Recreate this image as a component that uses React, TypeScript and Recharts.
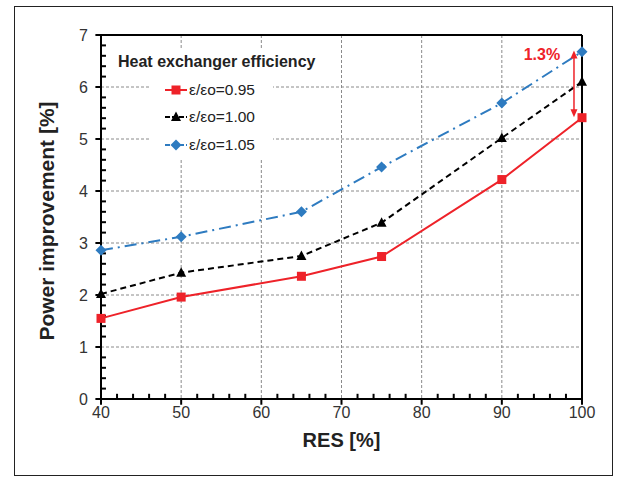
import {
  LineChart,
  Line,
  XAxis,
  YAxis,
  CartesianGrid,
  ReferenceLine,
  ReferenceDot,
  Legend,
} from 'recharts';

const FONT = '"Liberation Sans", Arial, sans-serif';

// RES share [%] on the x axis
const resLevels = [40, 50, 65, 75, 90, 100];
// power improvement [%] per heat exchanger efficiency ratio
const eff095 = [1.55, 1.96, 2.36, 2.74, 4.22, 5.41];
const eff100 = [2.02, 2.43, 2.75, 3.39, 5.02, 6.1];
const eff105 = [2.86, 3.12, 3.6, 4.46, 5.69, 6.68];

const xTicks = [40, 50, 60, 70, 80, 90, 100];
const yTicks = [0, 1, 2, 3, 4, 5, 6, 7];
const xMinorTicks = [42, 44, 46, 48, 52, 54, 56, 58, 62, 64, 66, 68, 72, 74, 76, 78, 82, 84, 86, 88, 92, 94, 96, 98];
const yMinorTicks = yTicks.slice(0, -1).flatMap(v => [0.2, 0.4, 0.6, 0.8].map(f => +(v + f).toFixed(1)));

// the 1.3% gap marker at RES = 100
const gapLabel = '1.3%';
const gapTop = 6.7;
const gapBottom = 5.42;

const data = resLevels.map((res, i) => ({
  res,
  e095: eff095[i],
  e100: eff100[i],
  e105: eff105[i],
}));

const RED = '#ee2229';
const BLUE = '#2e7bc0';

type Shape = 'square' | 'triangle' | 'diamond';

const series: { key: string; name: string; color: string; dash?: string; shape: Shape }[] = [
  { key: 'e095', name: 'ε/εo=0.95', color: RED, shape: 'square' },
  { key: 'e100', name: 'ε/εo=1.00', color: '#000', dash: '6 4', shape: 'triangle' },
  { key: 'e105', name: 'ε/εo=1.05', color: BLUE, dash: '12 5 2 5', shape: 'diamond' },
];

function Marker({ cx, cy, shape, color }: { cx: number; cy: number; shape: Shape; color: string }) {
  if (shape === 'square') return <rect x={cx - 4.5} y={cy - 4.5} width={9} height={9} fill={color} />;
  if (shape === 'triangle')
    return <polygon points={`${cx},${cy - 5.5} ${cx + 5},${cy + 4} ${cx - 5},${cy + 4}`} fill={color} />;
  return <polygon points={`${cx},${cy - 5.5} ${cx + 5.5},${cy} ${cx},${cy + 5.5} ${cx - 5.5},${cy}`} fill={color} />;
}

function EffLegend() {
  return (
    <div style={{ fontFamily: FONT, color: '#222' }}>
      <div style={{ fontWeight: 700, fontSize: 16, background: '#fff', padding: '0 6px', lineHeight: '24px', whiteSpace: 'nowrap' }}>
        Heat exchanger efficiency
      </div>
      <div style={{ marginLeft: 38, width: 123, background: '#fff', paddingTop: 2 }}>
        {series.map(s => (
          <div key={s.key} style={{ display: 'flex', alignItems: 'center', height: 27.5, paddingLeft: 15 }}>
            <svg width={23} height={12}>
              <line x1={0} y1={6} x2={22} y2={6} stroke={s.color} strokeWidth={2} strokeDasharray={s.dash ? '5 2' : undefined} />
              <Marker cx={11} cy={6} shape={s.shape} color={s.color} />
            </svg>
            <span style={{ fontSize: 15.5, marginLeft: 1 }}>{s.name}</span>
          </div>
        ))}
      </div>
    </div>
  );
}

function GapArrow(props: any) {
  const { x1, y1, x2, y2 } = props;
  const top = Math.min(y1, y2);
  const bottom = Math.max(y1, y2);
  const x = x1 ?? x2;
  return (
    <g>
      <line x1={x} y1={top + 4} x2={x} y2={bottom - 4} stroke={RED} strokeWidth={1.5} />
      <polygon points={`${x},${top} ${x + 3.5},${top + 8} ${x - 3.5},${top + 8}`} fill={RED} />
      <polygon points={`${x},${bottom} ${x + 3.5},${bottom - 8} ${x - 3.5},${bottom - 8}`} fill={RED} />
    </g>
  );
}

// plain black segment, used for the axis tick marks
function TickMark(props: any) {
  const { x1, y1, x2, y2 } = props;
  return <line x1={x1} y1={y1} x2={x2} y2={y2} stroke="#000" strokeWidth={2} />;
}

function XTitle({ viewBox }: any) {
  const { x, y, width } = viewBox;
  return (
    <text x={x + width / 2} y={y + 48} textAnchor="middle" fontFamily={FONT} fontWeight={700} fontSize={20} fill="#222">
      RES [%]
    </text>
  );
}

function YTitle({ viewBox }: any) {
  const { y, height } = viewBox;
  const cx = 54;
  const cy = y + height / 2 + 4;
  return (
    <text
      x={cx}
      y={cy}
      transform={`rotate(-90, ${cx}, ${cy})`}
      textAnchor="middle"
      fontFamily={FONT}
      fontWeight={700}
      fontSize={21}
      fill="#222"
    >
      Power improvement [%]
    </text>
  );
}

export default function App() {
  return (
    <div style={{ position: 'absolute', left: 0, top: 0, width: 617, height: 477, background: '#fff' }}>
      <LineChart width={617} height={477} data={data} margin={{ top: 35, right: 35, left: 0, bottom: 0 }}>
        <CartesianGrid stroke="#8a8a8a" strokeDasharray="3 2" />

        <XAxis
          type="number"
          dataKey="res"
          domain={[40, 100]}
          ticks={xTicks}
          interval={0}
          height={78}
          tickSize={5}
          tickMargin={3}
          tickLine={false}
          axisLine={{ stroke: '#000', strokeWidth: 2 }}
          tick={{ fill: '#333', fontSize: 16, fontFamily: FONT }}
          label={<XTitle />}
        />
        <YAxis
          type="number"
          domain={[0, 7]}
          ticks={yTicks}
          interval={0}
          width={101}
          tickSize={5}
          tickMargin={8}
          tickLine={false}
          axisLine={{ stroke: '#000', strokeWidth: 2 }}
          tick={{ fill: '#333', fontSize: 16, fontFamily: FONT }}
          label={<YTitle />}
        />

        <ReferenceLine y={7} stroke="#000" strokeWidth={2} />
        <ReferenceLine x={100} stroke="#000" strokeWidth={2} />

        {/* tick marks: majors point outward, minors point into the plot */}
        {xTicks.map(v => (
          <ReferenceLine key={`xt${v}`} ifOverflow="visible" segment={[{ x: v, y: 0 }, { x: v, y: -0.11 }]} shape={<TickMark />} />
        ))}
        {xMinorTicks.map(v => (
          <ReferenceLine key={`xm${v}`} ifOverflow="visible" segment={[{ x: v, y: 0 }, { x: v, y: 0.1 }]} shape={<TickMark />} />
        ))}
        {yTicks.map(v => (
          <ReferenceLine key={`yt${v}`} ifOverflow="visible" segment={[{ x: 40, y: v }, { x: 39.3, y: v }]} shape={<TickMark />} />
        ))}
        {yMinorTicks.map(v => (
          <ReferenceLine key={`ym${v}`} ifOverflow="visible" segment={[{ x: 40, y: v }, { x: 40.62, y: v }]} shape={<TickMark />} />
        ))}

        <Legend
          content={<EffLegend />}
          layout="vertical"
          align="center"
          verticalAlign="middle"
          wrapperStyle={{ left: 112, top: 50, width: 215, right: 'auto', bottom: 'auto' }}
        />

        {[...series].reverse().map(s => (
          <Line
            key={s.key}
            dataKey={s.key}
            name={s.name}
            type="linear"
            stroke={s.color}
            strokeWidth={2}
            strokeDasharray={s.dash}
            isAnimationActive={false}
            dot={(p: any) => <Marker key={`${s.key}-${p.index}`} cx={p.cx} cy={p.cy} shape={s.shape} color={s.color} />}
            activeDot={false}
          />
        ))}

        <ReferenceLine
          segment={[{ x: 99, y: gapTop }, { x: 99, y: gapBottom }]}
          shape={<GapArrow />}
        />
        <ReferenceDot
          x={95}
          y={6.62}
          r={0}
          stroke="none"
          label={{ value: gapLabel, fill: RED, fontWeight: 700, fontSize: 16, fontFamily: FONT, position: 'center' }}
        />
      </LineChart>
      <div
        style={{
          position: 'absolute',
          left: 14,
          top: 6,
          width: 599,
          height: 470,
          boxSizing: 'border-box',
          border: '1.5px solid #222',
          pointerEvents: 'none',
        }}
      />
    </div>
  );
}
